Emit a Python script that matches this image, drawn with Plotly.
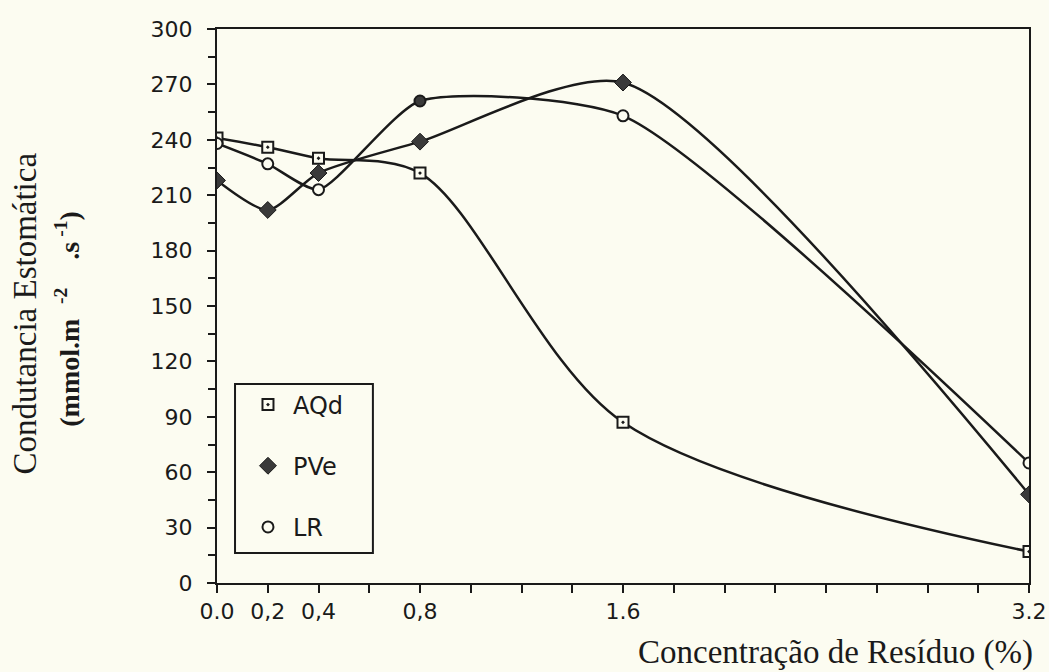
import plotly.graph_objects as go

# concentration of residue (%)
conc = [0.0, 0.2, 0.4, 0.8, 1.6, 3.2]

# stomatal conductance (mmol m-2 s-1) per soil
aqd = [241, 236, 230, 222, 87, 17]
pve = [218, 202, 222, 239, 271, 48]
lr = [238, 227, 213, 261, 253, 65]

x_tickvals = [0.0, 0.2, 0.4, 0.8, 1.6, 3.2]
x_ticktext = ["0.0", "0,2", "0,4", "0,8", "1.6", "3.2"]

bg = "#fcfcf1"
ink = "#1a1a1a"
dark = "#3a3a3a"
tick_font = dict(family="DejaVu Sans", size=22, color=ink)

series = [
    ("AQd", aqd, "a", 0.9, dict(symbol="square-dot", size=11, color=bg,
                                line=dict(color=ink, width=2))),
    ("PVe", pve, "b", 0.7, dict(symbol="diamond", size=13, color=dark,
                                line=dict(color=ink, width=1))),
    ("LR", lr, "c", 0.6, dict(symbol="circle", size=11,
                              color=[bg, bg, bg, dark, bg, bg],
                              line=dict(color=ink, width=2))),
]

fig = go.Figure()

for name, vals, grp, smooth, mk in series:
    # smoothed curve (kept out of the legend)
    fig.add_trace(go.Scatter(
        x=conc, y=vals, mode="lines", showlegend=False, legendgroup=grp,
        line=dict(color=ink, width=2.5, shape="spline", smoothing=smooth),
        hoverinfo="skip",
    ))

for name, vals, grp, smooth, mk in series:
    fig.add_trace(go.Scatter(
        x=conc, y=vals, mode="markers", name=name, legendgroup=grp,
        marker=mk,
    ))

# legend frame
fig.add_shape(type="rect", xref="paper", yref="paper",
              x0=0.0222, x1=0.192, y0=0.054, y1=0.359,
              line=dict(color=ink, width=2), fillcolor="rgba(0,0,0,0)")

fig.add_annotation(
    text="Concentração de Resíduo (%)", xref="paper", yref="paper",
    x=1.007, y=-0.125, xanchor="right", yanchor="middle", showarrow=False,
    font=dict(family="Liberation Serif", size=33, color=ink),
)
fig.add_annotation(
    text="Condutancia Estomática", xref="paper", yref="paper",
    x=-0.236, y=0.487, xanchor="center", yanchor="middle", showarrow=False,
    textangle=-90, font=dict(family="Liberation Serif", size=33, color=ink),
)
fig.add_annotation(
    text="<b>(mmol.m<sup>\u00a0\u00a0\u00a0-2</sup>\u00a0\u00a0\u00a0\u00a0.s<sup>\u00a0-1</sup>)</b>",
    xref="paper", yref="paper",
    x=-0.1835, y=0.477, xanchor="center", yanchor="middle", showarrow=False,
    textangle=-90, font=dict(family="Liberation Serif", size=28, color=ink),
)

fig.update_layout(
    width=1049, height=672,
    paper_bgcolor=bg, plot_bgcolor=bg,
    margin=dict(l=217, r=20, t=29, b=89),
    showlegend=True,
    legend=dict(
        x=0.032, y=0.362, xanchor="left", yanchor="top",
        bgcolor="rgba(0,0,0,0)", borderwidth=0,
        traceorder="grouped", tracegroupgap=27,
        font=dict(family="DejaVu Sans", size=24, color=ink),
        itemwidth=40,
    ),
    xaxis=dict(
        range=[0, 3.2], tickvals=x_tickvals, ticktext=x_ticktext,
        showgrid=False, zeroline=False, automargin=False,
        showline=True, linecolor=ink, linewidth=2, mirror=True,
        ticks="outside", ticklen=8, tickwidth=2, tickcolor=ink,
        minor=dict(dtick=0.2, tick0=0, ticks="outside", ticklen=8,
                   tickwidth=2, tickcolor=ink),
        tickfont=tick_font,
    ),
    yaxis=dict(
        range=[0, 300], dtick=30, tick0=0,
        showgrid=False, zeroline=False, automargin=False,
        showline=True, linecolor=ink, linewidth=2, mirror=True,
        ticks="outside", ticklen=8, tickwidth=2, tickcolor=ink,
        minor=dict(dtick=15, tick0=0, ticks="outside", ticklen=7,
                   tickwidth=2, tickcolor=ink),
        tickfont=tick_font, ticklabelstandoff=10,
    ),
)

fig.write_html("out.html", config={"displayModeBar": False},
               post_script="document.body.style.margin='0';")
